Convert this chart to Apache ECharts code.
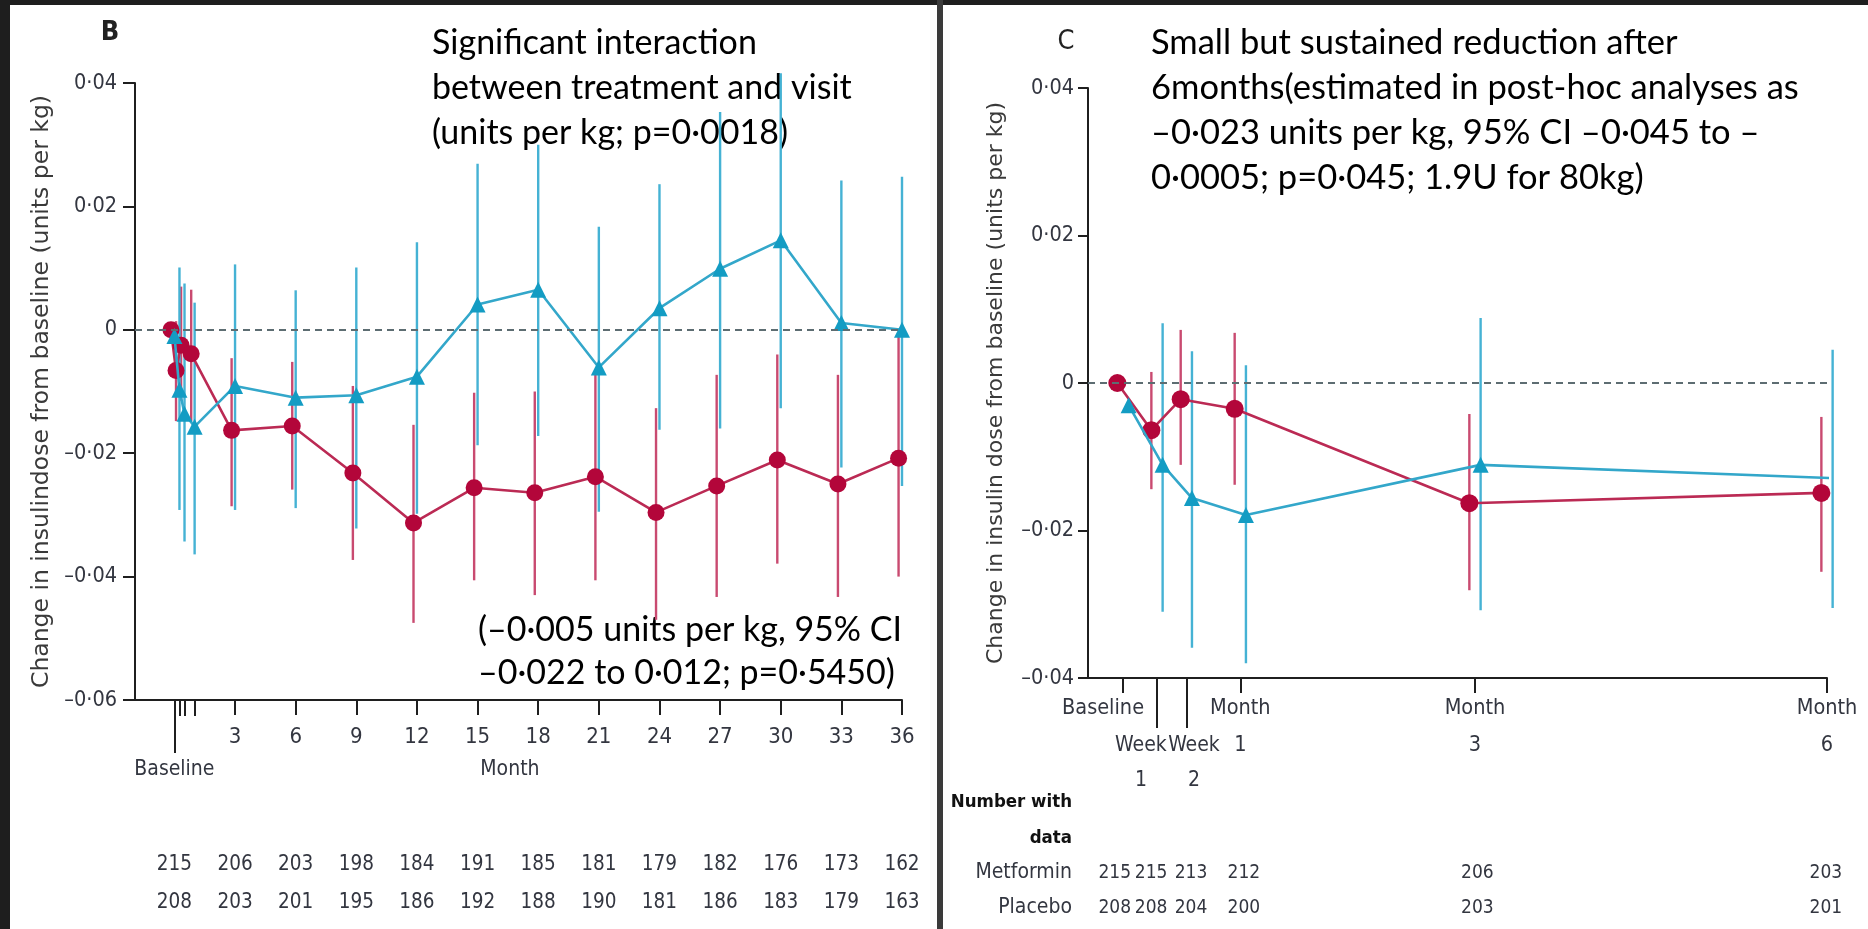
<!DOCTYPE html>
<html>
<head>
<meta charset="utf-8">
<script src="https://cdn.jsdelivr.net/npm/echarts@6/dist/echarts.min.js"></script>
<style>
  html, body { margin: 0; padding: 0; background: #1e1e1e; }
  #frame { position: relative; width: 1868px; height: 929px; overflow: hidden; }
  .panel { position: absolute; background: #fff; }
  #divider { position: absolute; left: 937px; top: 0; width: 6px; height: 929px; background: #3a3a3a; }
  #chart { position: absolute; left: 0; top: 0; width: 1868px; height: 929px; }
</style>
</head>
<body>
<div id="frame">
  <div class="panel" style="left:10px; top:5px; width:927px; height:924px;"></div>
  <div class="panel" style="left:943px; top:5px; width:925px; height:924px;"></div>
  <div id="divider"></div>
  <div id="chart"></div>
</div>
<script>
// ---------- Panel B: change in insulin dose over 36 months ----------
const visitsB = [0, 0.25, 0.5, 1, 3, 6, 9, 12, 15, 18, 21, 24, 27, 30, 33, 36];
const metforminB    = [0, -0.0066, -0.0025, -0.0039, -0.0163, -0.0156, -0.0232, -0.0313, -0.0256, -0.0264, -0.0238, -0.0296, -0.0253, -0.0211, -0.0250, -0.0208];
const metforminB_lo = [null, -0.0148, -0.0115, -0.0148, -0.0286, -0.0259, -0.0373, -0.0475, -0.0406, -0.0430, -0.0406, -0.0470, -0.0433, -0.0379, -0.0433, -0.0400];
const metforminB_hi = [null, 0.0014, 0.0070, 0.0065, -0.0046, -0.0052, -0.0091, -0.0154, -0.0102, -0.0100, -0.0068, -0.0127, -0.0073, -0.0040, -0.0073, -0.0007];
const placeboB      = [-0.0010, -0.0097, -0.0136, -0.0157, -0.0091, -0.0110, -0.0106, -0.0076, 0.0041, 0.0065, -0.0061, 0.0035, 0.0099, 0.0145, 0.0011, 0.0000];
const placeboB_lo   = [null, -0.0292, -0.0343, -0.0364, -0.0292, -0.0289, -0.0322, -0.0298, -0.0187, -0.0172, -0.0295, -0.0162, -0.0160, -0.0127, -0.0223, -0.0253];
const placeboB_hi   = [null, 0.0101, 0.0075, 0.0044, 0.0106, 0.0064, 0.0101, 0.0142, 0.0269, 0.0300, 0.0167, 0.0236, 0.0353, 0.0416, 0.0242, 0.0248];
const monthTicksB   = [3, 6, 9, 12, 15, 18, 21, 24, 27, 30, 33, 36];
const earlyTicksB   = [0.25, 0.5, 1];
const countMonthsB  = [0, 3, 6, 9, 12, 15, 18, 21, 24, 27, 30, 33, 36];
const countsMetforminB = [215, 206, 203, 198, 184, 191, 185, 181, 179, 182, 176, 173, 162];
const countsPlaceboB   = [208, 203, 201, 195, 186, 192, 188, 190, 181, 186, 183, 179, 163];

// ---------- Panel C: first 6 months ----------
const visitsC = [0, 0.29, 0.54, 1, 3, 6];
const visitNamesC = ['Baseline', 'Week 1', 'Week 2', 'Month 1', 'Month 3', 'Month 6'];
const metforminC    = [0, -0.0064, -0.0022, -0.0035, -0.0163, -0.0149];
const metforminC_lo = [null, -0.0144, -0.0111, -0.0138, -0.0281, -0.0256];
const metforminC_hi = [null, 0.0015, 0.0072, 0.0068, -0.0042, -0.0046];
const placeboC      = [-0.0030, -0.0111, -0.0156, -0.0179, -0.0111, -0.0129];
const placeboC_lo   = [null, -0.0310, -0.0359, -0.0380, -0.0308, -0.0305];
const placeboC_hi   = [null, 0.0081, 0.0043, 0.0024, 0.0088, 0.0045];
const countsMetforminC = [215, 215, 213, 212, 206, 203];
const countsPlaceboC   = [208, 208, 204, 200, 203, 201];

// ---------- styling ----------
const RED = '#b3063a', RED_LINE = '#bb2a54', RED_BAR = '#c94a70';
const BLUE = '#139cc3', BLUE_LINE = '#33a7ca', BLUE_BAR = '#45b2d4';
const AXIS = '#1f1f1f', TXT = '#333640';
const NARROW = "'DejaVu Sans Condensed', 'Liberation Sans Narrow', sans-serif";
const WIDE = "'DejaVu Sans', Verdana, sans-serif";
const NOTE = "Lato, 'Open Sans', sans-serif";

// horizontal dodge between the two arms (months)
const DODGE_B = { red: -0.17, blue: 0 };
const DODGE_C = { red: -0.048, blue: 0.048 };

// label anchors along the axes (months)
const BASELINE_LABEL_C = -0.17;
const WEEK_LABELS_C = [0.153, 0.605];
const TABLE_ANCHOR_C = [-0.07, 0.24, 0.58, 1.03, 3.02, 5.99];
const MONTH_TITLE_B = 16.6;

const fmtY = v => {
  if (Math.abs(v) < 1e-9) return '0';
  return (v < 0 ? '\u2013' : '') + Math.abs(v).toFixed(2).replace('.', '\u00b7');
};
const pts = (xs, ys, dx) => xs.map((x, i) => [x + dx, ys[i]]);

function errorBars(xs, lo, hi, dx, color, xi, yi) {
  const data = xs.map((x, i) => [x + dx, lo[i], hi[i]]).filter(d => d[1] != null);
  return {
    type: 'custom', xAxisIndex: xi, yAxisIndex: yi, clip: false, silent: true, z: 1,
    data: data, encode: { x: 0, y: [1, 2] },
    renderItem: (params, api) => {
      const a = api.coord([api.value(0), api.value(1)]);
      const b = api.coord([api.value(0), api.value(2)]);
      return { type: 'line', shape: { x1: a[0], y1: a[1], x2: b[0], y2: b[1] },
               style: { stroke: color, lineWidth: 2.4 } };
    }
  };
}
function lineSeries(name, data, symbol, size, mColor, lColor, xi, yi, z) {
  return {
    name: name, type: 'line', xAxisIndex: xi, yAxisIndex: yi, data: data, z: z,
    symbol: symbol, symbolSize: size, showAllSymbol: true,
    itemStyle: { color: mColor }, lineStyle: { color: lColor, width: 2.6 },
    silent: true
  };
}
function zeroLine() {
  return { silent: true, symbol: 'none', label: { show: false },
           lineStyle: { color: '#5d6d72', type: [7, 5], width: 2 },
           data: [{ yAxis: 0 }] };
}

// x axes sharing a grid: all pinned to the bottom with a common range
function xAx(grid, min, max, extra) {
  return Object.assign({
    type: 'value', gridIndex: grid, min: min, max: max, position: 'bottom',
    splitLine: { show: false },
    axisLine: { show: false, onZero: false },
    axisTick: { show: false },
    axisLabel: { show: false }
  }, extra);
}
function lbl(size, lineHeight, extra) {
  return Object.assign({ show: true, color: TXT, fontFamily: NARROW, fontSize: size,
    lineHeight: lineHeight, hideOverlap: false }, extra);
}
const tickStyle = { color: AXIS, width: 2 };

const B_MIN = -1.95, B_MAX = 36;
const C_MIN = -0.298, C_MAX = 6;

const option = {
  animation: false,
  grid: [
    { left: 135, top: 83, width: 767, height: 617 },
    { left: 1088, top: 88, width: 739, height: 590 }
  ],
  xAxis: [
    // 0: panel B month axis
    xAx(0, B_MIN, B_MAX, {
      axisLine: { show: true, onZero: false, lineStyle: tickStyle },
      axisTick: { show: true, length: 15, lineStyle: tickStyle, customValues: monthTicksB },
      axisLabel: lbl(22, 26, { margin: 24, customValues: monthTicksB })
    }),
    // 1: baseline tick + axis titles
    xAx(0, B_MIN, B_MAX, {
      axisTick: { show: true, length: 53, lineStyle: tickStyle, customValues: [0] },
      axisLabel: lbl(21, 26, { margin: 57, customValues: [0, MONTH_TITLE_B],
        formatter: v => (v === 0 ? 'Baseline' : 'Month') })
    }),
    // 2: week 1 / week 2 / month 1 ticks
    xAx(0, B_MIN, B_MAX, {
      axisTick: { show: true, length: 16, lineStyle: tickStyle, customValues: earlyTicksB }
    }),
    // 3, 4: numbers with data
    xAx(0, B_MIN, B_MAX, {
      axisLabel: lbl(20.5, 26, { margin: 152, customValues: countMonthsB,
        formatter: v => String(countsMetforminB[countMonthsB.indexOf(v)]) })
    }),
    xAx(0, B_MIN, B_MAX, {
      axisLabel: lbl(20.5, 26, { margin: 190, customValues: countMonthsB,
        formatter: v => String(countsPlaceboB[countMonthsB.indexOf(v)]) })
    }),
    // 5: panel C visit axis
    xAx(1, C_MIN, C_MAX, {
      axisLine: { show: true, onZero: false, lineStyle: tickStyle },
      axisTick: { show: true, length: 15, lineStyle: tickStyle, customValues: [0, 1, 3, 6] },
      axisLabel: lbl(21.5, 37, { margin: 12, customValues: [BASELINE_LABEL_C, 1, 3, 6],
        formatter: v => (v === BASELINE_LABEL_C ? 'Baseline' : 'Month\n' + v) })
    }),
    // 6: week ticks and labels
    xAx(1, C_MIN, C_MAX, {
      axisTick: { show: true, length: 50, lineStyle: tickStyle, customValues: [visitsC[1], visitsC[2]] },
      axisLabel: lbl(21, 35, { margin: 50, customValues: WEEK_LABELS_C,
        formatter: v => visitNamesC[v === WEEK_LABELS_C[0] ? 1 : 2].replace(' ', '\n') })
    }),
    // 7, 8: numbers with data
    xAx(1, C_MIN, C_MAX, {
      axisLabel: lbl(19, 30, { margin: 180, customValues: TABLE_ANCHOR_C,
        formatter: v => String(countsMetforminC[TABLE_ANCHOR_C.indexOf(v)]) })
    }),
    xAx(1, C_MIN, C_MAX, {
      axisLabel: lbl(19, 30, { margin: 215, customValues: TABLE_ANCHOR_C,
        formatter: v => String(countsPlaceboC[TABLE_ANCHOR_C.indexOf(v)]) })
    })
  ],
  yAxis: [
    {
      type: 'value', gridIndex: 0, min: -0.06, max: 0.04, interval: 0.02,
      splitLine: { show: false },
      axisLine: { show: true, onZero: false, lineStyle: tickStyle },
      axisTick: { show: true, length: 12, lineStyle: tickStyle },
      axisLabel: { color: TXT, fontFamily: NARROW, fontSize: 21.5, margin: 18, formatter: fmtY },
      name: 'Change in insulindose from baseline (units per kg)',
      nameLocation: 'middle', nameRotate: 90, nameGap: 81,
      nameTextStyle: { color: '#3a3a3a', fontFamily: WIDE, fontSize: 23.5 }
    },
    {
      type: 'value', gridIndex: 1, min: -0.04, max: 0.04, interval: 0.02,
      splitLine: { show: false },
      axisLine: { show: true, onZero: false, lineStyle: tickStyle },
      axisTick: { show: true, length: 10, lineStyle: tickStyle },
      axisLabel: { color: TXT, fontFamily: NARROW, fontSize: 21.5, margin: 14, formatter: fmtY },
      name: 'Change in insulin dose from baseline (units per kg)',
      nameLocation: 'middle', nameRotate: 90, nameGap: 81,
      nameTextStyle: { color: '#3a3a3a', fontFamily: WIDE, fontSize: 22 }
    }
  ],
  series: [
    // panel B
    Object.assign(errorBars(visitsB, metforminB_lo, metforminB_hi, DODGE_B.red, RED_BAR, 0, 0), { markLine: zeroLine() }),
    errorBars(visitsB, placeboB_lo, placeboB_hi, DODGE_B.blue, BLUE_BAR, 0, 0),
    lineSeries('Metformin', pts(visitsB, metforminB, DODGE_B.red), 'circle', 17, RED, RED_LINE, 0, 0, 3),
    lineSeries('Placebo', pts(visitsB, placeboB, DODGE_B.blue), 'triangle', 16, BLUE, BLUE_LINE, 0, 0, 4),
    // panel C
    Object.assign(errorBars(visitsC, metforminC_lo, metforminC_hi, DODGE_C.red, RED_BAR, 5, 1), { markLine: zeroLine() }),
    errorBars(visitsC, placeboC_lo, placeboC_hi, DODGE_C.blue, BLUE_BAR, 5, 1),
    lineSeries('Metformin', pts(visitsC, metforminC, DODGE_C.red), 'circle', 18, RED, RED_LINE, 5, 1, 3),
    lineSeries('Placebo', pts(visitsC, placeboC, DODGE_C.blue), 'triangle', 16, BLUE, BLUE_LINE, 5, 1, 4)
  ],
  graphic: [
    { type: 'text', x: 110, y: 33, style: { text: 'B', fill: '#222', font: 'bold 27px ' + NARROW, align: 'center', verticalAlign: 'middle' } },
    { type: 'text', x: 1066, y: 42, style: { text: 'C', fill: '#222', font: '27px ' + NARROW, align: 'center', verticalAlign: 'middle' } },
    { type: 'text', x: 432, y: 21, style: {
        text: 'Significant interaction\nbetween treatment and visit\n(units per kg; p=0\u00b70018)',
        fill: '#000', font: '34px ' + NOTE, lineHeight: 44.7 } },
    { type: 'text', x: 478, y: 609, style: {
        text: '(\u20130\u00b7005 units per kg, 95% CI\n\u20130\u00b7022 to 0\u00b7012; p=0\u00b75450)',
        fill: '#000', font: '34px ' + NOTE, lineHeight: 43 } },
    { type: 'text', x: 1151, y: 20, style: {
        text: 'Small but sustained reduction after\n6months(estimated in post-hoc analyses as\n\u20130\u00b7023 units per kg, 95% CI \u20130\u00b7045 to \u2013\n0\u00b70005; p=0\u00b7045; 1.9U for 80kg)',
        fill: '#000', font: '34.5px ' + NOTE, lineHeight: 45 } },
    { type: 'text', x: 1072, y: 802, style: { text: 'Number with', fill: '#111', font: 'bold 18.5px ' + NARROW, align: 'right', verticalAlign: 'middle' } },
    { type: 'text', x: 1072, y: 838, style: { text: 'data', fill: '#111', font: 'bold 18.5px ' + NARROW, align: 'right', verticalAlign: 'middle' } },
    { type: 'text', x: 1072, y: 873, style: { text: 'Metformin', fill: TXT, font: '21px ' + NARROW, align: 'right', verticalAlign: 'middle' } },
    { type: 'text', x: 1072, y: 908, style: { text: 'Placebo', fill: TXT, font: '21px ' + NARROW, align: 'right', verticalAlign: 'middle' } }
  ]
};

const chart = echarts.init(document.getElementById('chart'), null, { renderer: 'canvas' });
chart.setOption(option);
</script>
</body>
</html>
